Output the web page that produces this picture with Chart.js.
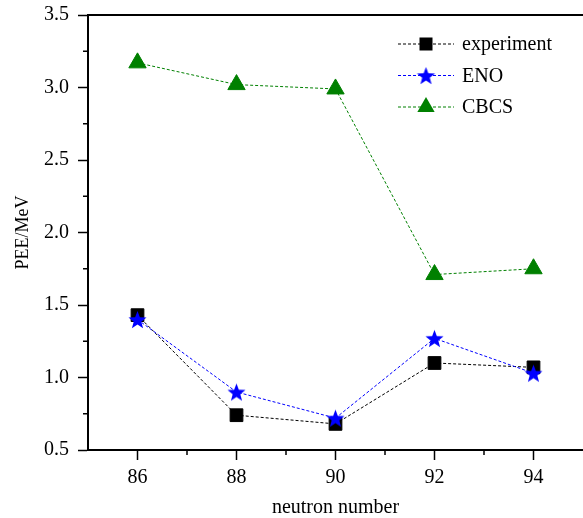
<!DOCTYPE html>
<html lang="en">
<head>
    <meta charset="UTF-8">
    <title>PEE vs neutron number</title>
    <script src="https://cdn.jsdelivr.net/npm/chart.js"></script>
    <style>
        html, body { margin: 0; padding: 0; background: #fff; }
        #wrap { width: 583px; height: 518px; }
    </style>
</head>
<body>
    <div id="wrap"><canvas id="peeChart" width="583" height="518"></canvas></div>

    <script>
        // data
        const neutrons = [86, 88, 90, 92, 94];
        const experiment = [1.43, 0.74, 0.68, 1.10, 1.07];
        const eno = [1.40, 0.90, 0.72, 1.27, 1.03];
        const cbcs = [3.17, 3.02, 2.99, 1.71, 1.75];
        const xMajor = [86, 88, 90, 92, 94];
        const xMinor = [87, 89, 91, 93];
        const yMajor = [0.5, 1.0, 1.5, 2.0, 2.5, 3.0, 3.5];
        const yMinor = [0.75, 1.25, 1.75, 2.25, 2.75, 3.25];

        const FONT = 'Liberation Serif';

        // filled five point star, Chart.js has only the line version
        function makeStar(color, R) {
            const c = document.createElement('canvas');
            const s = Math.ceil(R * 2 + 2);
            c.width = s; c.height = s;
            const g = c.getContext('2d');
            const r = R * 0.42;
            g.beginPath();
            for (let i = 0; i < 10; i++) {
                const rad = i % 2 === 0 ? R : r;
                const a = -Math.PI / 2 + i * Math.PI / 5;
                const px = s / 2 + rad * Math.cos(a);
                const py = s / 2 + 1 + rad * Math.sin(a);
                if (i === 0) g.moveTo(px, py); else g.lineTo(px, py);
            }
            g.closePath();
            g.fillStyle = color;
            g.fill();
            return c;
        }
        const starImg = makeStar('#0000ff', 9.5);

        const toPts = (ys) => neutrons.map((x, i) => ({ x: x, y: ys[i] }));

        // minor ticks, top frame line and the legend
        const decorations = {
            id: 'decorations',
            afterDraw(chart) {
                const ctx = chart.ctx;
                const area = chart.chartArea;
                const xs = chart.scales.x, ys = chart.scales.y;
                ctx.save();
                ctx.strokeStyle = '#000';
                ctx.lineWidth = 1.5;
                ctx.beginPath();
                xMinor.forEach(v => {
                    const px = xs.getPixelForValue(v);
                    ctx.moveTo(px, area.bottom);
                    ctx.lineTo(px, area.bottom + 5);
                });
                yMinor.forEach(v => {
                    const py = ys.getPixelForValue(v);
                    ctx.moveTo(area.left, py);
                    ctx.lineTo(area.left - 5, py);
                });
                ctx.stroke();
                ctx.lineWidth = 2;
                ctx.beginPath();
                ctx.moveTo(area.left, area.top);
                ctx.lineTo(area.right, area.top);
                ctx.stroke();

                // legend
                ctx.font = '20px "' + FONT + '"';
                ctx.textBaseline = 'middle';
                ctx.fillStyle = '#000';
                chart.data.datasets.forEach((ds, i) => {
                    const y = 44 + i * 31.5;
                    ctx.save();
                    ctx.strokeStyle = ds.borderColor;
                    ctx.lineWidth = 1;
                    ctx.setLineDash([3, 2]);
                    ctx.beginPath();
                    ctx.moveTo(398, y);
                    ctx.lineTo(454, y);
                    ctx.stroke();
                    ctx.restore();
                    const cx = 426;
                    ctx.fillStyle = ds.pointBackgroundColor;
                    if (ds.pointStyle === 'rect') {
                        ctx.fillRect(cx - 6.5, y - 6.5, 13, 13);
                    } else if (ds.pointStyle === 'triangle') {
                        const r = ds.pointRadius;
                        ctx.beginPath();
                        ctx.moveTo(cx, y - r);
                        ctx.lineTo(cx + r * 0.866, y + r / 2);
                        ctx.lineTo(cx - r * 0.866, y + r / 2);
                        ctx.closePath();
                        ctx.fill();
                    } else {
                        ctx.drawImage(starImg, cx - starImg.width / 2, y - starImg.height / 2);
                    }
                    ctx.fillStyle = '#000';
                    ctx.fillText(ds.label, 462, y + 1);
                });
                ctx.restore();
            }
        };

        const lineBase = {
            showLine: true,
            fill: false,
            borderWidth: 1,
            borderDash: [3, 2],
            tension: 0,
            pointBorderWidth: 1
        };

        new Chart(document.getElementById('peeChart'), {
            type: 'scatter',
            data: {
                datasets: [
                    Object.assign({}, lineBase, {
                        label: 'experiment',
                        data: toPts(experiment),
                        borderColor: '#000000',
                        pointBackgroundColor: '#000000',
                        pointBorderColor: '#000000',
                        pointStyle: 'rect',
                        pointRadius: 9,
                        order: 3
                    }),
                    Object.assign({}, lineBase, {
                        label: 'ENO',
                        data: toPts(eno),
                        borderColor: '#0000ff',
                        pointBackgroundColor: '#0000ff',
                        pointBorderColor: '#0000ff',
                        pointStyle: starImg,
                        pointRadius: 9,
                        order: 1
                    }),
                    Object.assign({}, lineBase, {
                        label: 'CBCS',
                        data: toPts(cbcs),
                        borderColor: '#008000',
                        pointBackgroundColor: '#008000',
                        pointBorderColor: '#008000',
                        pointStyle: 'triangle',
                        pointRadius: 10,
                        order: 2
                    })
                ]
            },
            options: {
                responsive: false,
                animation: false,
                layout: { autoPadding: false, padding: { top: 15, right: 0, left: 0, bottom: 0 } },
                plugins: {
                    legend: { display: false },
                    tooltip: { enabled: false }
                },
                scales: {
                    x: {
                        type: 'linear',
                        min: 85,
                        max: 95,
                        afterBuildTicks: (s) => { s.ticks = xMajor.map(v => ({ value: v })); },
                        afterFit: (s) => { s.height = 68; s.paddingLeft = 0; s.paddingRight = 0; },
                        ticks: {
                            color: '#000',
                            padding: 6,
                            maxRotation: 0,
                            font: { family: FONT, size: 20 },
                            callback: (v) => String(v)
                        },
                        grid: { drawOnChartArea: false, drawTicks: true, tickLength: 10, color: '#000', tickWidth: 1.5 },
                        border: { display: true, color: '#000', width: 2 },
                        title: {
                            display: true,
                            text: 'neutron number',
                            color: '#000',
                            font: { family: FONT, size: 20 },
                            padding: { top: 0, bottom: -2 }
                        }
                    },
                    y: {
                        type: 'linear',
                        min: 0.5,
                        max: 3.5,
                        afterBuildTicks: (s) => { s.ticks = yMajor.map(v => ({ value: v })); },
                        afterFit: (s) => { s.width = 88; s.paddingTop = 0; s.paddingBottom = 0; },
                        ticks: {
                            color: '#000',
                            padding: 9,
                            font: { family: FONT, size: 20 },
                            callback: (v) => Number(v).toFixed(1)
                        },
                        grid: { drawOnChartArea: false, drawTicks: true, tickLength: 10, color: '#000', tickWidth: 1.5 },
                        border: { display: true, color: '#000', width: 2 },
                        title: {
                            display: true,
                            text: 'PEE/MeV',
                            color: '#000',
                            font: { family: FONT, size: 18 },
                            padding: { top: 12, bottom: 0 }
                        }
                    }
                }
            },
            plugins: [decorations]
        });
    </script>
</body>
</html>
